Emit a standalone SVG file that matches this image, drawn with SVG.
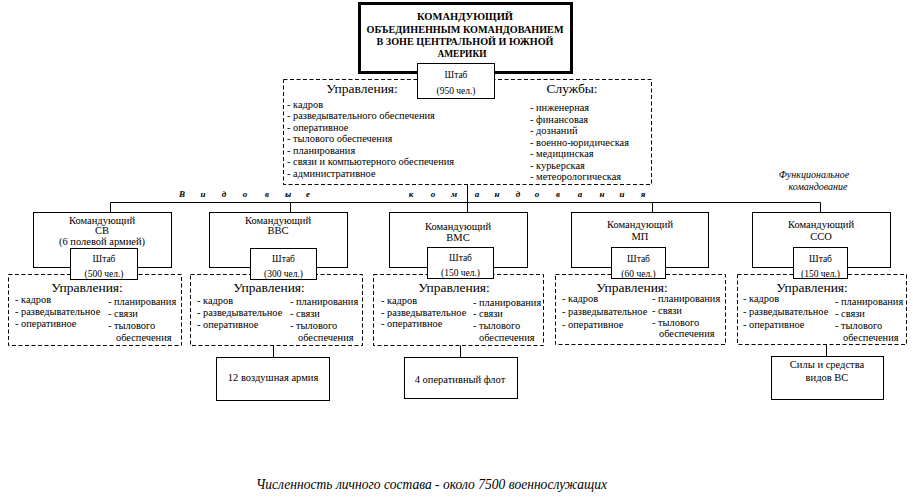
<svg xmlns="http://www.w3.org/2000/svg" width="913" height="501" viewBox="0 0 913 501" font-family="'Liberation Serif', 'DejaVu Serif', serif">
<style>
text{font-family:"Liberation Serif","DejaVu Serif","Noto Serif",serif;fill:#000}
.box{fill:#fff;stroke:#000;stroke-width:1}
.thick{fill:#fff;stroke:#000;stroke-width:3}
.dash{fill:#fff;stroke:#000;stroke-width:1;stroke-dasharray:4 2.5}
.conn{stroke:#000;stroke-width:1;fill:none}
.title{font-size:11px;font-weight:bold;text-anchor:middle}
.cmd{font-size:10.5px;text-anchor:middle}
.sh{font-size:9.5px;text-anchor:middle}
.hd{font-size:13.5px;text-anchor:middle}
.li{font-size:10.4px}
.vk{font-size:9px;font-style:italic;font-weight:bold;text-anchor:middle}
.fn{font-size:10px;font-style:italic;text-anchor:middle}
.bt{font-size:10.5px;text-anchor:middle}
.ft{font-size:14.5px;font-style:italic}
</style>
<rect width="913" height="501" fill="#fff"/>

<g id="connectors">
<path class="conn" d="M467.5,184 V212 M110.5,202.5 H820.5 M110.5,202.5 V212 M290.5,202.5 V212 M652.5,202.5 V212 M820.5,202.5 V212 M273.5,345 V357 M460.5,345 V357 M826.5,344 V356"/>
</g>

<g id="commander">
<rect class="thick" x="359.5" y="3.5" width="212" height="69"/>
<text class="title" x="465" y="20" textLength="96" lengthAdjust="spacingAndGlyphs">КОМАНДУЮЩИЙ</text>
<text class="title" x="465" y="33" textLength="197" lengthAdjust="spacingAndGlyphs">ОБЪЕДИНЕННЫМ КОМАНДОВАНИЕМ</text>
<text class="title" x="465" y="45" textLength="177" lengthAdjust="spacingAndGlyphs">В ЗОНЕ ЦЕНТРАЛЬНОЙ И ЮЖНОЙ</text>
<text class="title" x="462" y="57" textLength="49" lengthAdjust="spacingAndGlyphs">АМЕРИКИ</text>
</g>

<g id="hq-main">
<rect class="dash" x="283.5" y="79.5" width="368" height="105"/>
<rect class="box" x="417.5" y="63.5" width="77" height="35"/>
<text class="sh" x="456" y="78">Штаб</text>
<text class="sh" x="456" y="94">(950 чел.)</text>
<text class="hd" x="362" y="93">Управления:</text>
<text class="li" x="287" y="107.5">- кадров</text>
<text class="li" x="287" y="119">- разведывательного обеспечения</text>
<text class="li" x="287" y="130.5">- оперативное</text>
<text class="li" x="287" y="142">- тылового обеспечения</text>
<text class="li" x="287" y="153.5">- планирования</text>
<text class="li" x="287" y="165">- связи и компьютерного обеспечения</text>
<text class="li" x="287" y="176.5">- административное</text>
<text class="hd" x="572" y="93">Службы:</text>
<text class="li" x="530" y="111">- инженерная</text>
<text class="li" x="530" y="122.5">- финансовая</text>
<text class="li" x="530" y="134">- дознаний</text>
<text class="li" x="530" y="145.5">- военно-юридическая</text>
<text class="li" x="530" y="157">- медицинская</text>
<text class="li" x="530" y="168.5">- курьерская</text>
<text class="li" x="530" y="180">- метеорологическая</text>
</g>

<g id="label-vidovye">
<text class="vk" y="197"><tspan x="182">В</tspan><tspan x="203">и</tspan><tspan x="224">д</tspan><tspan x="245">о</tspan><tspan x="267">в</tspan><tspan x="288">ы</tspan><tspan x="308">е</tspan><tspan x="411">к</tspan><tspan x="433">о</tspan><tspan x="454">м</tspan><tspan x="477">а</tspan><tspan x="497">н</tspan><tspan x="518">д</tspan><tspan x="537">о</tspan><tspan x="558">в</tspan><tspan x="580">а</tspan><tspan x="602">н</tspan><tspan x="622">и</tspan><tspan x="643">я</tspan></text>
</g>

<g id="label-functional">
<text class="fn" x="814" y="178">Функциональное</text>
<text class="fn" x="818" y="190">командование</text>
</g>

<g id="col-sv">
<rect class="box" x="33.5" y="212.5" width="138" height="55"/>
<text class="cmd" x="102" y="224">Командующий</text>
<text class="cmd" x="102" y="234">СВ</text>
<text class="cmd" x="102" y="245">(6 полевой армией)</text>
<rect class="dash" x="8.5" y="274.5" width="173" height="71"/>
<rect class="box" x="70.5" y="248.5" width="67" height="31"/>
<text class="sh" x="104" y="261.5">Штаб</text>
<text class="sh" x="104" y="276.5">(500 чел.)</text>
<text class="hd" x="87" y="292">Управления:</text>
<text class="li" x="15" y="302.5">- кадров</text>
<text class="li" x="15" y="315">- разведывательное</text>
<text class="li" x="15" y="327">- оперативное</text>
<text class="li" x="108" y="304.5">- планирования</text>
<text class="li" x="108" y="316.5">- связи</text>
<text class="li" x="108" y="328.5">- тылового</text>
<text class="li" x="116" y="340.5">обеспечения</text>
</g>

<g id="col-vvs">
<rect class="box" x="209.5" y="212.5" width="138" height="55"/>
<text class="cmd" x="278" y="224">Командующий</text>
<text class="cmd" x="278" y="234">ВВС</text>
<rect class="dash" x="190.5" y="274.5" width="172" height="71"/>
<rect class="box" x="250.5" y="248.5" width="66" height="31"/>
<text class="sh" x="283.5" y="261.5">Штаб</text>
<text class="sh" x="283.5" y="276.5">(300 чел.)</text>
<text class="hd" x="269" y="292">Управления:</text>
<text class="li" x="197" y="303.5">- кадров</text>
<text class="li" x="197" y="316">- разведывательное</text>
<text class="li" x="197" y="327.5">- оперативное</text>
<text class="li" x="290" y="305">- планирования</text>
<text class="li" x="290" y="317">- связи</text>
<text class="li" x="290" y="328.5">- тылового</text>
<text class="li" x="298" y="340.5">обеспечения</text>
</g>

<g id="col-vms">
<rect class="box" x="389.5" y="212.5" width="138" height="55"/>
<text class="cmd" x="458" y="230">Командующий</text>
<text class="cmd" x="458" y="241">ВМС</text>
<rect class="dash" x="373.5" y="274.5" width="170" height="71"/>
<rect class="box" x="427.5" y="247.5" width="66" height="31"/>
<text class="sh" x="460.5" y="261">Штаб</text>
<text class="sh" x="460.5" y="276">(150 чел.)</text>
<text class="hd" x="454" y="292">Управления:</text>
<text class="li" x="381" y="304">- кадров</text>
<text class="li" x="381" y="315.5">- разведывательное</text>
<text class="li" x="381" y="327">- оперативное</text>
<text class="li" x="473" y="305.5">- планирования</text>
<text class="li" x="473" y="317">- связи</text>
<text class="li" x="473" y="328.5">- тылового</text>
<text class="li" x="479" y="340.5">обеспечения</text>
</g>

<g id="col-mp">
<rect class="box" x="571.5" y="212.5" width="137" height="55"/>
<text class="cmd" x="640" y="228">Командующий</text>
<text class="cmd" x="640" y="240">МП</text>
<rect class="dash" x="555.5" y="274.5" width="170" height="70"/>
<rect class="box" x="611.5" y="247.5" width="54" height="31"/>
<text class="sh" x="638.5" y="261.5">Штаб</text>
<text class="sh" x="638.5" y="276.5">(60 чел.)</text>
<text class="hd" x="632" y="292">Управления:</text>
<text class="li" x="562" y="301.5">- кадров</text>
<text class="li" x="562" y="315">- разведывательное</text>
<text class="li" x="562" y="327.5">- оперативное</text>
<text class="li" x="652" y="301.5">- планирования</text>
<text class="li" x="652" y="313.5">- связи</text>
<text class="li" x="652" y="325.5">- тылового</text>
<text class="li" x="659" y="336.5">обеспечения</text>
</g>

<g id="col-sso">
<rect class="box" x="752.5" y="212.5" width="138" height="55"/>
<text class="cmd" x="821" y="228">Командующий</text>
<text class="cmd" x="821" y="240">ССО</text>
<rect class="dash" x="737.5" y="274.5" width="169" height="70"/>
<rect class="box" x="793.5" y="247.5" width="54" height="31"/>
<text class="sh" x="820.5" y="261.5">Штаб</text>
<text class="sh" x="820.5" y="276.5">(150 чел.)</text>
<text class="hd" x="812" y="292">Управления:</text>
<text class="li" x="743" y="301.5">- кадров</text>
<text class="li" x="743" y="315">- разведывательное</text>
<text class="li" x="743" y="327.5">- оперативное</text>
<text class="li" x="835" y="305">- планирования</text>
<text class="li" x="835" y="317">- связи</text>
<text class="li" x="835" y="328.5">- тылового</text>
<text class="li" x="843" y="340.5">обеспечения</text>
</g>

<g id="air-army">
<rect class="box" x="216.5" y="357.5" width="113" height="43"/>
<text class="bt" x="273" y="381">12 воздушная армия</text>
</g>

<g id="fleet">
<rect class="box" x="404.5" y="357.5" width="113" height="41"/>
<text class="bt" x="460" y="383">4 оперативный флот</text>
</g>

<g id="forces">
<rect class="box" x="771.5" y="356.5" width="112" height="43"/>
<text class="bt" x="827" y="368">Силы и средства</text>
<text class="bt" x="827" y="381">видов ВС</text>
</g>

<g id="footer">
<text class="ft" x="256" y="489" textLength="351" lengthAdjust="spacingAndGlyphs">Численность личного состава - около 7500 военнослужащих</text>
</g>
</svg>
